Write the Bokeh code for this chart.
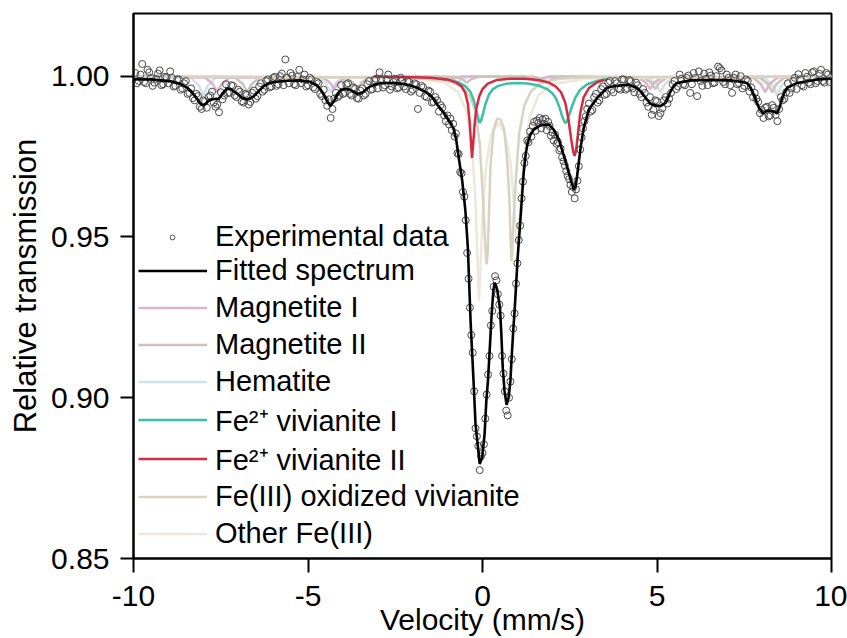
import numpy as np
from bokeh.plotting import figure
from bokeh.models import (Range1d, FixedTicker, NumeralTickFormatter, Legend,
                          LegendItem)
from bokeh.embed import file_html
from bokeh.resources import INLINE

# ---------------- data ----------------
# velocity channels of the spectrometer (mm/s)
exp_v_left = np.linspace(-9.95, -1.05, 90)
exp_v_left_b = np.linspace(-9.90, -1.10, 89)
exp_v_mid = np.linspace(-1.00, 3.00, 101)
exp_v_right = np.linspace(3.05, 9.95, 70)
exp_v_right_b = np.linspace(3.10, 9.90, 69)

exp_t_left = [
    1.0010, 0.9985, 1.0038, 0.9978, 1.0012, 0.9970, 0.9992, 1.0018, 0.9975, 0.9996,
    1.0015, 0.9968, 0.9990, 0.9958, 0.9978, 0.9945, 0.9962, 0.9925, 0.9938, 0.9898,
    0.9922, 0.9935, 0.9952, 0.9905, 0.9888, 0.9928, 0.9975, 0.9948, 0.9970, 0.9935,
    0.9952, 0.9918, 0.9942, 0.9920, 0.9955, 0.9938, 0.9978, 0.9958, 0.9990, 0.9968,
    0.9998, 0.9975, 1.0008, 1.0052, 0.9978, 1.0002, 0.9972, 1.0020, 0.9990, 0.9968,
    0.9995, 0.9965, 0.9982, 0.9945, 0.9958, 0.9908, 0.9870, 0.9930, 0.9935, 0.9972,
    0.9948, 0.9978, 0.9940, 0.9962, 0.9930, 0.9962, 0.9945, 0.9985, 0.9960, 0.9992,
    1.0012, 0.9965, 0.9990, 0.9958, 0.9982, 0.9962, 0.9995, 0.9968, 0.9985, 0.9952,
    0.9978, 0.9898, 0.9970, 0.9938, 0.9955, 0.9918, 0.9935, 0.9890, 0.9902, 0.9860]
exp_t_left_b = [
    0.9978, 1.0005, 0.9982, 1.0020, 0.9995, 0.9980, 1.0008, 0.9972, 0.9998, 0.9978,
    0.9995, 0.9970, 0.9990, 0.9962, 0.9985, 0.9948, 0.9932, 0.9945, 0.9905, 0.9925,
    0.9902, 0.9940, 0.9918, 0.9912, 0.9950, 0.9940, 0.9948, 0.9972, 0.9940, 0.9958,
    0.9922, 0.9945, 0.9912, 0.9948, 0.9930, 0.9968, 0.9952, 0.9985, 0.9965, 0.9995,
    0.9970, 1.0000, 0.9972, 0.9995, 1.0010, 0.9975, 0.9998, 0.9978, 1.0005, 0.9972,
    0.9990, 0.9960, 0.9978, 0.9938, 0.9925, 0.9928, 0.9898, 0.9948, 0.9940, 0.9945,
    0.9975, 0.9945, 0.9965, 0.9932, 0.9955, 0.9940, 0.9975, 0.9958, 0.9988, 0.9962,
    0.9990, 0.9972, 1.0005, 0.9968, 0.9992, 0.9965, 0.9988, 0.9960, 0.9982, 0.9958,
    0.9975, 0.9948, 0.9965, 0.9935, 0.9952, 0.9920, 0.9925, 0.9910, 0.9878]
exp_t_mid = [
    0.9878, 0.9850, 0.9868, 0.9832, 0.9852, 0.9812, 0.9822, 0.9760, 0.9758, 0.9702,
    0.9698, 0.9640, 0.9625, 0.9552, 0.9450, 0.9370, 0.9280, 0.9195, 0.9140, 0.9020,
    0.8905, 0.8880, 0.8850, 0.8775, 0.8818, 0.8828, 0.8855, 0.8935, 0.9010, 0.9072,
    0.9130, 0.9225, 0.9270, 0.9345, 0.9378, 0.9365, 0.9322, 0.9290, 0.9255, 0.9130,
    0.9075, 0.9020, 0.8960, 0.8945, 0.9000, 0.9050, 0.9120, 0.9215, 0.9262, 0.9355,
    0.9418, 0.9490, 0.9535, 0.9620, 0.9672, 0.9730, 0.9752, 0.9800, 0.9795, 0.9828,
    0.9812, 0.9845, 0.9858, 0.9830, 0.9862, 0.9855, 0.9870, 0.9838, 0.9865, 0.9852,
    0.9868, 0.9832, 0.9858, 0.9845, 0.9815, 0.9825, 0.9800, 0.9818, 0.9790, 0.9795,
    0.9770, 0.9775, 0.9748, 0.9735, 0.9722, 0.9705, 0.9690, 0.9680, 0.9662, 0.9640,
    0.9655, 0.9620, 0.9648, 0.9675, 0.9720, 0.9772, 0.9810, 0.9838, 0.9860, 0.9875,
    0.9898]
exp_t_right = [
    0.9915, 0.9895, 0.9945, 0.9925, 0.9968, 0.9945, 0.9985, 0.9950, 0.9978, 0.9958,
    0.9990, 0.9962, 0.9985, 0.9950, 0.9972, 0.9935, 0.9948, 0.9905, 0.9880, 0.9925,
    0.9876, 0.9900, 0.9935, 0.9930, 0.9975, 0.9960, 1.0005, 0.9975, 0.9995, 0.9948,
    1.0010, 0.9938, 0.9985, 1.0008, 0.9972, 1.0002, 0.9980, 1.0030, 1.0018, 0.9975,
    0.9995, 0.9948, 1.0005, 0.9978, 0.9962, 0.9990, 0.9952, 0.9935, 0.9930, 0.9885,
    0.9870, 0.9905, 0.9878, 0.9902, 0.9860, 0.9935, 0.9930, 0.9978, 0.9962, 0.9995,
    1.0006, 0.9972, 1.0010, 0.9980, 1.0012, 0.9978, 1.0008, 0.9985, 1.0010, 0.9982]
exp_t_right_b = [
    0.9890, 0.9935, 0.9918, 0.9960, 0.9942, 0.9980, 0.9958, 0.9985, 0.9962, 0.9990,
    0.9958, 0.9988, 0.9962, 0.9980, 0.9945, 0.9960, 0.9918, 0.9935, 0.9895, 0.9922,
    0.9885, 0.9925, 0.9915, 0.9948, 0.9985, 0.9968, 0.9992, 0.9972, 1.0002, 0.9975,
    0.9995, 1.0015, 0.9970, 0.9992, 1.0012, 0.9978, 1.0000, 1.0025, 0.9982, 1.0005,
    0.9972, 0.9995, 0.9975, 1.0000, 0.9970, 0.9985, 0.9965, 0.9948, 0.9920, 0.9895,
    0.9902, 0.9875, 0.9910, 0.9880, 0.9898, 0.9925, 0.9950, 0.9948, 0.9985, 0.9960,
    0.9990, 0.9968, 0.9998, 0.9975, 1.0015, 0.9985, 1.0020, 0.9980, 1.0005]

fitted = [
    (-10.0, 0.9991), (-9.5, 0.9990), (-8.94, 0.9984), (-8.65, 0.9976), (-8.46, 0.9964),
    (-8.30, 0.9947), (-8.17, 0.9928), (-8.08, 0.9914), (-8.00, 0.9909), (-7.93, 0.9914),
    (-7.87, 0.9922), (-7.78, 0.9927), (-7.70, 0.9929), (-7.63, 0.9930), (-7.56, 0.9929),
    (-7.46, 0.9945), (-7.32, 0.9962), (-7.22, 0.9960), (-7.13, 0.9953), (-7.00, 0.9943),
    (-6.89, 0.9933), (-6.80, 0.9929), (-6.74, 0.9928), (-6.65, 0.9931), (-6.55, 0.9938),
    (-6.40, 0.9955), (-6.27, 0.9969), (-6.10, 0.9979), (-5.98, 0.9982), (-5.60, 0.9986),
    (-5.21, 0.9987), (-4.93, 0.9982), (-4.75, 0.9972), (-4.64, 0.9959), (-4.52, 0.9937),
    (-4.45, 0.9922), (-4.36, 0.9907), (-4.26, 0.9922), (-4.16, 0.9942), (-4.07, 0.9956),
    (-3.95, 0.9960), (-3.83, 0.9959), (-3.70, 0.9952), (-3.59, 0.9945), (-3.45, 0.9948),
    (-3.32, 0.9960), (-3.21, 0.9969), (-2.92, 0.9979), (-2.60, 0.9979), (-2.35, 0.9977),
    (-2.10, 0.9972), (-1.87, 0.9964), (-1.58, 0.9948), (-1.42, 0.9932), (-1.30, 0.9912),
    (-1.15, 0.9892), (-1.01, 0.9870), (-0.90, 0.9852), (-0.82, 0.9834), (-0.75, 0.9800),
    (-0.68, 0.9746), (-0.58, 0.9674), (-0.49, 0.9581), (-0.42, 0.9467), (-0.34, 0.9234),
    (-0.25, 0.9037), (-0.20, 0.8918), (-0.13, 0.8846), (-0.08, 0.8794), (-0.01, 0.8814),
    (0.06, 0.8887), (0.11, 0.8991), (0.16, 0.9058), (0.21, 0.9156), (0.26, 0.9255),
    (0.31, 0.9332), (0.35, 0.9358), (0.42, 0.9337), (0.50, 0.9280), (0.54, 0.9198),
    (0.58, 0.9094), (0.63, 0.9022), (0.69, 0.8978), (0.75, 0.9001), (0.80, 0.9053),
    (0.83, 0.9115), (0.88, 0.9208), (0.92, 0.9270), (0.95, 0.9327), (1.01, 0.9440),
    (1.09, 0.9560), (1.18, 0.9700), (1.24, 0.9760), (1.30, 0.9795), (1.38, 0.9820),
    (1.47, 0.9834), (1.66, 0.9848), (1.90, 0.9850), (2.04, 0.9834), (2.19, 0.9803),
    (2.35, 0.9746), (2.47, 0.9700), (2.55, 0.9670), (2.62, 0.9648), (2.67, 0.9660),
    (2.71, 0.9689), (2.76, 0.9733), (2.81, 0.9777), (2.90, 0.9839), (3.05, 0.9897),
    (3.29, 0.9933), (3.57, 0.9964), (3.76, 0.9969), (4.15, 0.9974), (4.43, 0.9964),
    (4.57, 0.9948), (4.67, 0.9933), (4.78, 0.9918), (4.86, 0.9912), (4.98, 0.9908),
    (5.10, 0.9907), (5.24, 0.9917), (5.32, 0.9935), (5.39, 0.9953), (5.48, 0.9970),
    (5.58, 0.9979), (5.96, 0.9987), (6.50, 0.9988), (7.11, 0.9987), (7.45, 0.9982),
    (7.58, 0.9979), (7.68, 0.9965), (7.77, 0.9943), (7.92, 0.9902), (8.04, 0.9884),
    (8.12, 0.9890), (8.20, 0.9893), (8.33, 0.9891), (8.44, 0.9884), (8.52, 0.9905),
    (8.59, 0.9933), (8.66, 0.9952), (8.73, 0.9964), (9.02, 0.9979), (9.59, 0.9990),
    (10.0, 0.9992)]

magnetite_1 = [
    (-10, 1.0), (-7.95, 0.9996), (-7.72, 0.9975), (-7.60, 0.9950), (-7.48, 0.9975), (-7.25, 0.9996),
    (-4.60, 0.9997), (-4.37, 0.9980), (-4.25, 0.9960), (-4.13, 0.9980), (-3.90, 0.9997),
    (-1.30, 0.9999), (-1.07, 0.9992), (-0.95, 0.9985), (-0.83, 0.9992), (-0.60, 0.9999),
    (1.20, 0.9999), (1.43, 0.9992), (1.55, 0.9985), (1.67, 0.9992), (1.90, 0.9999),
    (4.45, 0.9997), (4.68, 0.9980), (4.80, 0.9960), (4.92, 0.9980), (5.15, 0.9997),
    (7.75, 0.9996), (7.98, 0.9975), (8.10, 0.9950), (8.22, 0.9975), (8.45, 0.9996), (10, 1.0)]

magnetite_2 = [
    (-10, 1.0), (-7.09, 0.9996), (-6.86, 0.9975), (-6.74, 0.9950), (-6.62, 0.9975), (-6.39, 0.9996),
    (-3.94, 0.9997), (-3.71, 0.9980), (-3.59, 0.9960), (-3.47, 0.9980), (-3.24, 0.9997),
    (-0.80, 0.9998), (-0.57, 0.9990), (-0.45, 0.9980), (-0.33, 0.9990), (-0.10, 0.9998),
    (1.50, 0.9998), (1.73, 0.9990), (1.85, 0.9980), (1.97, 0.9990), (2.20, 0.9998),
    (4.60, 0.9997), (4.83, 0.9980), (4.95, 0.9960), (5.07, 0.9980), (5.30, 0.9997),
    (7.95, 0.9996), (8.18, 0.9975), (8.30, 0.9950), (8.42, 0.9975), (8.65, 0.9996), (10, 1.0)]

hematite = [
    (-10, 1.0), (-8.35, 0.9995), (-8.12, 0.9970), (-8.00, 0.9940), (-7.88, 0.9970), (-7.65, 0.9995),
    (-4.71, 0.9996), (-4.48, 0.9975), (-4.36, 0.9950), (-4.24, 0.9975), (-4.01, 0.9996),
    (-1.07, 0.9998), (-0.84, 0.9990), (-0.72, 0.9980), (-0.60, 0.9990), (-0.37, 0.9998),
    (1.27, 0.9998), (1.50, 0.9990), (1.62, 0.9980), (1.74, 0.9990), (1.97, 0.9998),
    (4.75, 0.9996), (4.98, 0.9975), (5.10, 0.9950), (5.22, 0.9975), (5.45, 0.9996),
    (8.09, 0.9995), (8.32, 0.9970), (8.44, 0.9940), (8.56, 0.9970), (8.79, 0.9995), (10, 1.0)]

vivianite_1 = [
    (-1.2, 0.9992), (-1.0, 0.9989), (-0.70, 0.9981), (-0.50, 0.9970),
    (-0.35, 0.9952), (-0.25, 0.9925), (-0.18, 0.9895), (-0.12, 0.9868), (-0.08, 0.9855),
    (-0.04, 0.9862), (0.02, 0.9886), (0.08, 0.9912), (0.18, 0.9942), (0.30, 0.9960),
    (0.45, 0.9970), (0.70, 0.9977), (1.00, 0.9979), (1.30, 0.9977), (1.60, 0.9971),
    (1.85, 0.9960), (2.00, 0.9947), (2.10, 0.9932), (2.20, 0.9905), (2.28, 0.9876),
    (2.34, 0.9860), (2.38, 0.9855), (2.42, 0.9860), (2.48, 0.9878), (2.56, 0.9905),
    (2.66, 0.9933), (2.80, 0.9958), (3.00, 0.9975), (3.30, 0.9986), (3.60, 0.9991)]

vivianite_2 = [
    (-3.1, 0.9999), (-2.0, 0.9997), (-1.5, 0.9995), (-1.0, 0.9990), (-0.75, 0.9980), (-0.60, 0.9968),
    (-0.50, 0.9950), (-0.42, 0.9915), (-0.37, 0.9860), (-0.33, 0.9795), (-0.30, 0.9746),
    (-0.27, 0.9785), (-0.23, 0.9845), (-0.18, 0.9897), (-0.10, 0.9935), (0.0, 0.9960),
    (0.15, 0.9977), (0.40, 0.9988), (0.80, 0.9992), (1.20, 0.9992), (1.60, 0.9988),
    (1.90, 0.9980), (2.10, 0.9968), (2.25, 0.9950), (2.37, 0.9918), (2.46, 0.9868),
    (2.54, 0.9805), (2.60, 0.9765), (2.64, 0.9752), (2.68, 0.9768), (2.73, 0.9815),
    (2.80, 0.9885), (2.90, 0.9935), (3.05, 0.9963), (3.30, 0.9982), (3.50, 0.9989)]

oxidized_vivianite = [
    (-10, 1.0), (-2.0, 0.9996), (-1.0, 0.9985), (-0.60, 0.9970), (-0.35, 0.9935), (-0.20, 0.9890),
    (-0.08, 0.9790), (0.0, 0.9650), (0.06, 0.9510), (0.10, 0.9435), (0.12, 0.9415),
    (0.14, 0.9435), (0.18, 0.9550), (0.23, 0.9725), (0.32, 0.9835), (0.42, 0.9868),
    (0.52, 0.9865), (0.62, 0.9835), (0.71, 0.9735), (0.77, 0.9620), (0.81, 0.9475),
    (0.83, 0.9425), (0.85, 0.9445), (0.89, 0.9550), (0.95, 0.9670), (1.05, 0.9820),
    (1.20, 0.9910), (1.40, 0.9955), (1.70, 0.9980), (2.20, 0.9992), (3.0, 0.9997), (10, 1.0)]

other_fe3 = [
    (-10, 1.0), (-2.0, 0.9995), (-1.1, 0.9980), (-0.70, 0.9950), (-0.45, 0.9890), (-0.30, 0.9780),
    (-0.20, 0.9610), (-0.14, 0.9420), (-0.10, 0.9300), (-0.06, 0.9400), (0.0, 0.9560),
    (0.10, 0.9720), (0.25, 0.9820), (0.45, 0.9855), (0.65, 0.9820), (0.80, 0.9735),
    (0.90, 0.9600), (0.96, 0.9510), (1.00, 0.9480), (1.04, 0.9510), (1.10, 0.9620),
    (1.20, 0.9760), (1.35, 0.9870), (1.60, 0.9940), (2.0, 0.9975), (3.0, 0.9993), (10, 1.0)]

x_ticks = [-10, -5, 0, 5, 10]
y_ticks = [0.85, 0.90, 0.95, 1.00]

# ---------------- figure ----------------
FONT = "Liberation Sans"
p = figure(width=847, height=638, x_range=Range1d(-10, 10), y_range=Range1d(0.85, 1.0195),
           output_backend="svg", toolbar_location=None,
           min_border_left=133, min_border_right=16, min_border_top=13, min_border_bottom=80)
p.background_fill_color = "white"
p.border_fill_color = "white"
p.grid.visible = False
p.outline_line_color = "black"
p.outline_line_width = 2

xa = p.xaxis[0]
xa.ticker = FixedTicker(ticks=x_ticks)
xa.formatter = NumeralTickFormatter(format="0")
xa.axis_label = "Velocity (mm/s)"
xa.axis_label_standoff = -6
xa.major_label_standoff = 13
xa.major_tick_out = 14
xa.major_tick_in = 0
xa.axis_label_text_font_size = "30px"

ya = p.yaxis[0]
ya.ticker = FixedTicker(ticks=y_ticks)
ya.formatter = NumeralTickFormatter(format="0.00")
ya.axis_label = "Relative transmission"
ya.axis_label_standoff = 5
ya.major_label_standoff = 11
ya.major_tick_out = 13
ya.major_tick_in = 0
ya.axis_label_text_font_size = "31px"

for ax in (xa, ya):
    ax.minor_tick_line_color = None
    ax.axis_line_color = "black"
    ax.axis_line_width = 2
    ax.major_tick_line_color = "black"
    ax.major_tick_line_width = 2
    ax.major_label_text_font = FONT
    ax.major_label_text_font_size = "30px"
    ax.major_label_text_color = "black"
    ax.axis_label_text_font = FONT
    ax.axis_label_text_font_style = "normal"
    ax.axis_label_text_color = "black"

def line_of(pairs, color, width=2.5):
    xs = [a for a, b in pairs]
    ys = [b for a, b in pairs]
    return p.line(xs, ys, line_color=color, line_width=width)

r_hem = line_of(hematite, "#cfe3e9")
r_mag1 = line_of(magnetite_1, "#dab4cd")
r_mag2 = line_of(magnetite_2, "#ccc4bb")
r_other = line_of(other_fe3, "#ece8dc")
r_ox = line_of(oxidized_vivianite, "#d8d3c0")
r_viv1 = line_of(vivianite_1, "#3dbfa5")
r_viv2 = line_of(vivianite_2, "#d42a42")

exp_v = (list(exp_v_left) + list(exp_v_left_b) + list(exp_v_mid)
         + list(exp_v_right) + list(exp_v_right_b))
exp_t = exp_t_left + exp_t_left_b + exp_t_mid + exp_t_right + exp_t_right_b
r_exp = p.scatter(exp_v, exp_t, marker="circle", size=7, fill_color=None,
                  line_color="#4a4a4a", line_width=1)
r_fit = line_of(fitted, "black", 2.6)

def style_legend(lg):
    lg.background_fill_alpha = 0
    lg.border_line_alpha = 0
    lg.padding = 0
    lg.margin = 0
    lg.spacing = 0
    lg.label_text_font = FONT
    lg.label_text_font_size = "29px"
    lg.label_text_color = "black"

# first entry on its own, so that its marker stays small as in the reference
legend_a = Legend(items=[LegendItem(label="Experimental data", renderers=[r_exp])],
                  location=(33, 305), orientation="vertical")
style_legend(legend_a)
legend_a.glyph_width = 12
legend_a.glyph_height = 12
legend_a.label_height = 12
legend_a.label_standoff = 37
p.add_layout(legend_a)

legend_b = Legend(items=[
    LegendItem(label="Fitted spectrum", renderers=[r_fit]),
    LegendItem(label="Magnetite I", renderers=[r_mag1]),
    LegendItem(label="Magnetite II", renderers=[r_mag2]),
    LegendItem(label="Hematite", renderers=[r_hem]),
    LegendItem(label="Fe\u00b2\u207a vivianite I", renderers=[r_viv1]),
    LegendItem(label="Fe\u00b2\u207a vivianite II", renderers=[r_viv2]),
    LegendItem(label="Fe(III) oxidized vivianite", renderers=[r_ox]),
    LegendItem(label="Other Fe(III)", renderers=[r_other]),
], location=(5, 6), orientation="vertical")
style_legend(legend_b)
legend_b.label_height = 37
legend_b.glyph_height = 37
legend_b.glyph_width = 69
legend_b.label_standoff = 8
p.add_layout(legend_b)

open("out.html", "w").write(file_html(p, INLINE))
